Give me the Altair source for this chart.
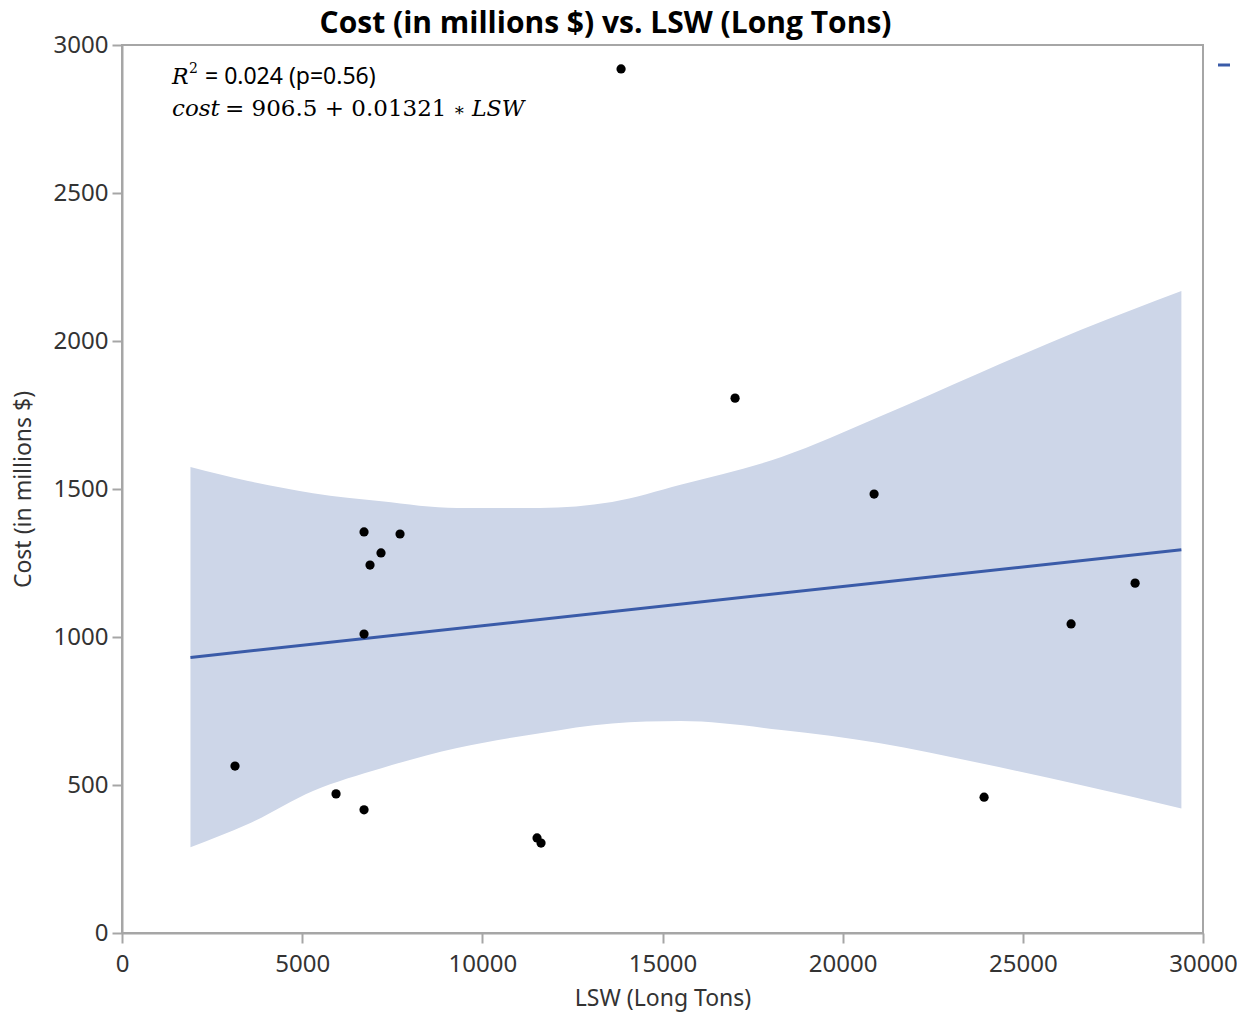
import altair as alt
import pandas as pd

# Scatter data (LSW in long tons, cost in millions $)
lsw = [3136, 5940, 6717, 6717, 6883, 7188, 7716, 6717, 11518, 11629, 13850, 17014, 20872, 23925, 26339, 28116]
cost = [564, 470, 416, 1355, 1243, 1284, 1348, 1010, 321, 304, 2919, 1807, 1483, 459, 1044, 1182]

# Fit line endpoints
line_x = [1900, 29400]
line_y = [931, 1295]

# Confidence band
band_x = [1900, 3500, 5300, 7200, 9300, 11600, 13600, 15500, 18300, 21000, 23800, 26600, 29400]
band_upper = [1574, 1527, 1486, 1459, 1436, 1436, 1456, 1514, 1608, 1743, 1892, 2037, 2169]
band_lower = [290, 368, 480, 557, 625, 675, 708, 716, 686, 642, 574, 500, 421]

x_ticks = [0, 5000, 10000, 15000, 20000, 25000, 30000]
y_ticks = [0, 500, 1000, 1500, 2000, 2500, 3000]

pts = pd.DataFrame({"lsw": lsw, "cost": cost})
line_df = pd.DataFrame({"lsw": line_x, "cost": line_y})
band_df = pd.DataFrame({"lsw": band_x, "upper": band_upper, "lower": band_lower})

AX = "#a6a6a6"
BLUE = "#3a5ba8"
BAND = "#cdd6e8"

xscale = alt.Scale(domain=[0, 30000], nice=False, zero=False)
yscale = alt.Scale(domain=[0, 3000], nice=False, zero=False)

xaxis = alt.Axis(values=x_ticks, format="d", title="LSW (Long Tons)", grid=False, labelFlush=False)
yaxis = alt.Axis(values=y_ticks, format="d", title="Cost (in millions $)", grid=False)

band = alt.Chart(band_df).mark_area(color=BAND, opacity=1, interpolate="monotone").encode(
    x=alt.X("lsw:Q", scale=xscale, axis=xaxis),
    y=alt.Y("upper:Q", scale=yscale, axis=yaxis),
    y2="lower:Q",
)

line = alt.Chart(line_df).mark_line(color=BLUE, strokeWidth=3).encode(
    x=alt.X("lsw:Q", scale=xscale),
    y=alt.Y("cost:Q", scale=yscale),
)

points = alt.Chart(pts).mark_circle(color="#000000", opacity=1, size=85).encode(
    x=alt.X("lsw:Q", scale=xscale),
    y=alt.Y("cost:Q", scale=yscale),
)

one = alt.Data(values=[{}])


def txt(t, x, y, size, font, style="normal", color="#000000"):
    return alt.Chart(one).mark_text(
        align="left", baseline="alphabetic", fontSize=size, font=font, fontStyle=style, color=color
    ).encode(x=alt.value(x), y=alt.value(y), text=alt.value(t))


annot = [
    txt("R", 50, 39, 22, "DejaVu Serif", "italic"),
    txt("2", 67, 28, 14, "DejaVu Serif"),
    txt("= 0.024 (p=0.56)", 83, 39, 23, "Noto Sans"),
    txt("cost", 50, 71, 23, "DejaVu Serif", "italic"),
    txt("= 906.5 + 0.01321", 103, 71, 23, "DejaVu Serif"),
    txt("\u2217", 331, 71, 18, "DejaVu Serif"),
    txt("LSW", 350, 71, 22, "DejaVu Serif", "italic"),
]

legend_mark = alt.Chart(one).mark_rule(color=BLUE, strokeWidth=3).encode(
    x=alt.value(1096), x2=alt.value(1108), y=alt.value(20)
)

chart = alt.layer(band, line, points, *annot, legend_mark).properties(
    width=1081,
    height=888,
    autosize=alt.AutoSizeParams(type="none"),
    padding={"left": 122, "top": 45, "right": 34, "bottom": 79},
    title=alt.TitleParams(
        "Cost (in millions $) vs. LSW (Long Tons)",
        fontSize=30, font="Open Sans", fontWeight="bold", color="#000000",
        anchor="middle", offset=-6, dx=-57,
    ),
).configure_view(
    stroke=AX, strokeWidth=2
).configure_axis(
    domainColor=AX, domainWidth=2, tickColor=AX, tickWidth=2, tickSize=10,
    labelColor="#333333", labelFont="Noto Sans", labelFontSize=24, labelPadding=4,
    titleColor="#333333", titleFont="Noto Sans", titleFontSize=23, titleFontWeight="normal",
).configure_axisX(
    labelPadding=9, titlePadding=11
).configure_axisY(
    titlePadding=18
)

chart.save("out.html", embed_options={"renderer": "svg", "actions": False})
